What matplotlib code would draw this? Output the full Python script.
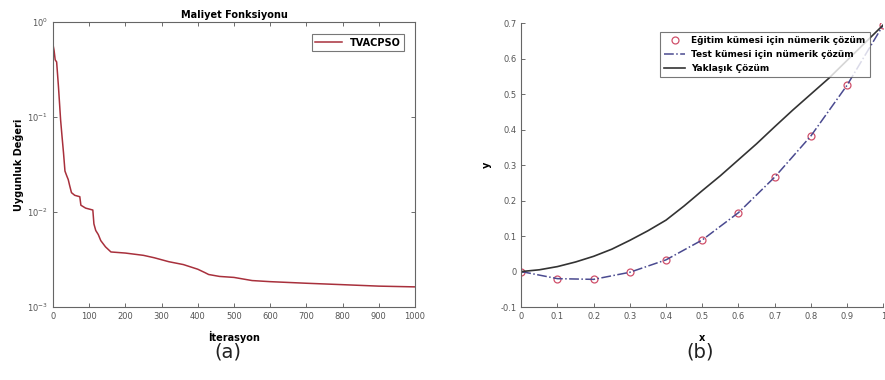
import matplotlib
matplotlib.use("Agg")
import matplotlib.pyplot as plt
from matplotlib.ticker import LogLocator, NullLocator

plt.rcParams['font.family'] = ['DejaVu Sans']

# (a) cost function history of TVACPSO
iterasyon = [1, 3, 6, 10, 12, 15, 18, 21, 25, 29, 33, 38, 42, 46, 51, 60, 74, 77,
             90, 110, 113, 118, 125, 132, 145, 160, 200, 250, 280, 320, 360, 400,
             420, 430, 460, 500, 550, 600, 700, 800, 900, 1000]
maliyet = [0.55, 0.50, 0.40, 0.38, 0.30, 0.21, 0.14, 0.093, 0.062, 0.042, 0.027,
           0.024, 0.022, 0.019, 0.016, 0.015, 0.0145, 0.0118, 0.011, 0.0105,
           0.0075, 0.0064, 0.0058, 0.0050, 0.0043, 0.0038, 0.0037, 0.0035, 0.0033,
           0.0030, 0.0028, 0.0025, 0.0023, 0.0022, 0.0021, 0.00205, 0.0019,
           0.00185, 0.00178, 0.00172, 0.00166, 0.00163]

# (b) numerical and approximate solutions
x_num = [0.0, 0.1, 0.2, 0.3, 0.4, 0.5, 0.6, 0.7, 0.8, 0.9, 1.0]
y_num = [0.0, -0.02, -0.022, -0.002, 0.033, 0.089, 0.166, 0.266, 0.382, 0.525, 0.695]
x_yak = [0.0, 0.05, 0.1, 0.15, 0.2, 0.25, 0.3, 0.35, 0.4, 0.45, 0.5, 0.55, 0.6,
         0.65, 0.7, 0.75, 0.8, 0.85, 0.9, 0.95, 1.0]
y_yak = [0.0, 0.005, 0.014, 0.027, 0.043, 0.063, 0.088, 0.115, 0.145, 0.185,
         0.228, 0.270, 0.315, 0.360, 0.408, 0.455, 0.500, 0.545, 0.595, 0.645, 0.695]

tick_col = '#555555'
fig = plt.figure(figsize=(8.85, 3.8), dpi=100)

# ---- left panel ----
ax1 = fig.add_axes([0.0599, 0.192, 0.409, 0.750])
ax1.semilogy(iterasyon, maliyet, color='#a8303c', lw=1.1, label='TVACPSO')
ax1.set_xlim(0, 1000)
ax1.set_ylim(1e-3, 1)
ax1.set_xticks(range(0, 1001, 100))
ax1.yaxis.set_major_locator(LogLocator(base=10, numticks=5))
ax1.yaxis.set_minor_locator(NullLocator())
ax1.tick_params(direction='in', top=True, right=True, labelsize=6,
                colors=tick_col, length=3, width=0.6)
for s in ax1.spines.values():
    s.set_color('#666666')
    s.set_linewidth(0.8)
ax1.set_title('Maliyet Fonksiyonu', fontsize=7, fontweight='bold', pad=3)
ax1.set_xlabel('İterasyon', fontsize=7, fontweight='bold', labelpad=7)
ax1.set_ylabel('Uygunluk Değeri', fontsize=7, fontweight='bold', labelpad=2)
leg1 = ax1.legend(loc='upper right', prop={'weight': 'bold', 'size': 7},
                  fancybox=False, edgecolor='#555555', handlelength=2.8,
                  borderpad=0.35, borderaxespad=1.1, bbox_to_anchor=(1.0, 0.995))
leg1.get_frame().set_linewidth(0.8)

# ---- right panel ----
ax2 = fig.add_axes([0.589, 0.192, 0.409, 0.747])
ax2.plot(x_num, y_num, 'o', ms=5, mfc='none', mec='#d0506a', mew=0.9,
         label='Eğitim kümesi için nümerik çözüm')
ax2.plot(x_num, y_num, '-.', color='#4a4a90', lw=1.1,
         label='Test kümesi için nümerik çözüm')
ax2.plot(x_yak, y_yak, '-', color='#333333', lw=1.2, label='Yaklaşık Çözüm')
ax2.set_xlim(0, 1)
ax2.set_ylim(-0.1, 0.7)
xt = [0, 0.1, 0.2, 0.3, 0.4, 0.5, 0.6, 0.7, 0.8, 0.9, 1]
yt = [-0.1, 0, 0.1, 0.2, 0.3, 0.4, 0.5, 0.6, 0.7]
ax2.set_xticks(xt)
ax2.set_xticklabels(['0', '0.1', '0.2', '0.3', '0.4', '0.5', '0.6', '0.7', '0.8', '0.9', '1'])
ax2.set_yticks(yt)
ax2.set_yticklabels(['-0.1', '0', '0.1', '0.2', '0.3', '0.4', '0.5', '0.6', '0.7'])
ax2.spines['top'].set_visible(False)
ax2.spines['right'].set_visible(False)
for s in ('left', 'bottom'):
    ax2.spines[s].set_color('#666666')
    ax2.spines[s].set_linewidth(0.8)
ax2.tick_params(direction='in', labelsize=6, colors=tick_col, length=3, width=0.6)
ax2.set_xlabel('x', fontsize=7, fontweight='bold', labelpad=9)
ax2.set_ylabel('y', fontsize=7, fontweight='bold', rotation=90, labelpad=6)
leg2 = ax2.legend(loc='upper right', prop={'weight': 'bold', 'size': 6.5},
                  fancybox=False, edgecolor='#555555', handlelength=2.3,
                  borderpad=0.45, labelspacing=0.55, handletextpad=0.7,
                  bbox_to_anchor=(0.975, 0.985))
leg2.get_frame().set_linewidth(0.8)

fig.text(0.258, 0.075, '(a)', fontsize=14, ha='center', va='center', color='#222222')
fig.text(0.791, 0.075, '(b)', fontsize=14, ha='center', va='center', color='#222222')

fig.savefig('out.png', dpi=100, facecolor='white')
